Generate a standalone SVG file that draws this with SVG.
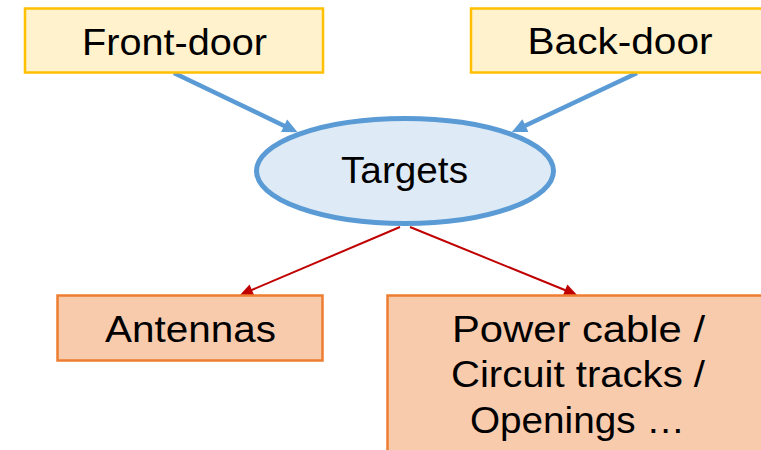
<svg xmlns="http://www.w3.org/2000/svg" width="761" height="450" viewBox="0 0 761 450">
  <style>
    .lbl { font-family: "Liberation Sans", Arial, sans-serif; font-size: 36px; fill: #000; text-anchor: middle; }
    .door { fill: #FFF2CC; stroke: #FFC000; stroke-width: 2.5; }
    .part { fill: #F8CBAD; stroke: #ED7D31; stroke-width: 2.5; }
    .blue { stroke: #5B9BD5; stroke-width: 4.5; fill: none; }
    .red { stroke: #C00000; stroke-width: 2; fill: none; }
  </style>
  <defs>
    <!-- arrowheads start at the line end and point forward -->
    <marker id="headBlue" markerUnits="userSpaceOnUse" markerWidth="20" markerHeight="20" refX="0" refY="0" orient="auto" overflow="visible">
      <path d="M-1,-7 L14,0 L-1,7 Z" fill="#5B9BD5"/>
    </marker>
    <marker id="headRed" markerUnits="userSpaceOnUse" markerWidth="20" markerHeight="20" refX="0" refY="0" orient="auto" overflow="visible">
      <path d="M-1,-6 L12,0 L-1,6 Z" fill="#C00000"/>
    </marker>
  </defs>

  <rect width="761" height="450" fill="#FFFFFF"/>

  <g id="connectors">
    <line class="blue" x1="174" y1="73" x2="285" y2="126.2" marker-end="url(#headBlue)"/>
    <line class="blue" x1="637" y1="73" x2="524.5" y2="126" marker-end="url(#headBlue)"/>
    <line class="red" x1="400" y1="227" x2="251" y2="290.3" marker-end="url(#headRed)"/>
    <line class="red" x1="410" y1="227" x2="566" y2="290.5" marker-end="url(#headRed)"/>
  </g>

  <g id="front-door">
    <rect class="door" x="25" y="8.5" width="298" height="64"/>
    <text class="lbl" x="174.5" y="55" textLength="185" lengthAdjust="spacingAndGlyphs">Front-door</text>
  </g>

  <g id="back-door">
    <rect class="door" x="471" y="8.5" width="295" height="64"/>
    <text class="lbl" x="620" y="54" textLength="185" lengthAdjust="spacingAndGlyphs">Back-door</text>
  </g>

  <g id="targets">
    <ellipse cx="405" cy="171" rx="148.5" ry="52.5" fill="#DEEBF7" stroke="#5B9BD5" stroke-width="5"/>
    <text class="lbl" x="404.5" y="183" textLength="127" lengthAdjust="spacingAndGlyphs">Targets</text>
  </g>

  <g id="antennas">
    <rect class="part" x="57.5" y="295.5" width="265" height="65"/>
    <text class="lbl" x="190.5" y="342" textLength="171" lengthAdjust="spacingAndGlyphs">Antennas</text>
  </g>

  <g id="power-cable">
    <rect class="part" x="387.5" y="295.5" width="380" height="165"/>
    <text class="lbl" x="578.5" y="342" textLength="253" lengthAdjust="spacingAndGlyphs">Power cable /</text>
    <text class="lbl" x="578" y="387" textLength="254" lengthAdjust="spacingAndGlyphs">Circuit tracks /</text>
    <text class="lbl" x="577.5" y="433" textLength="215" lengthAdjust="spacingAndGlyphs">Openings …</text>
  </g>
</svg>
